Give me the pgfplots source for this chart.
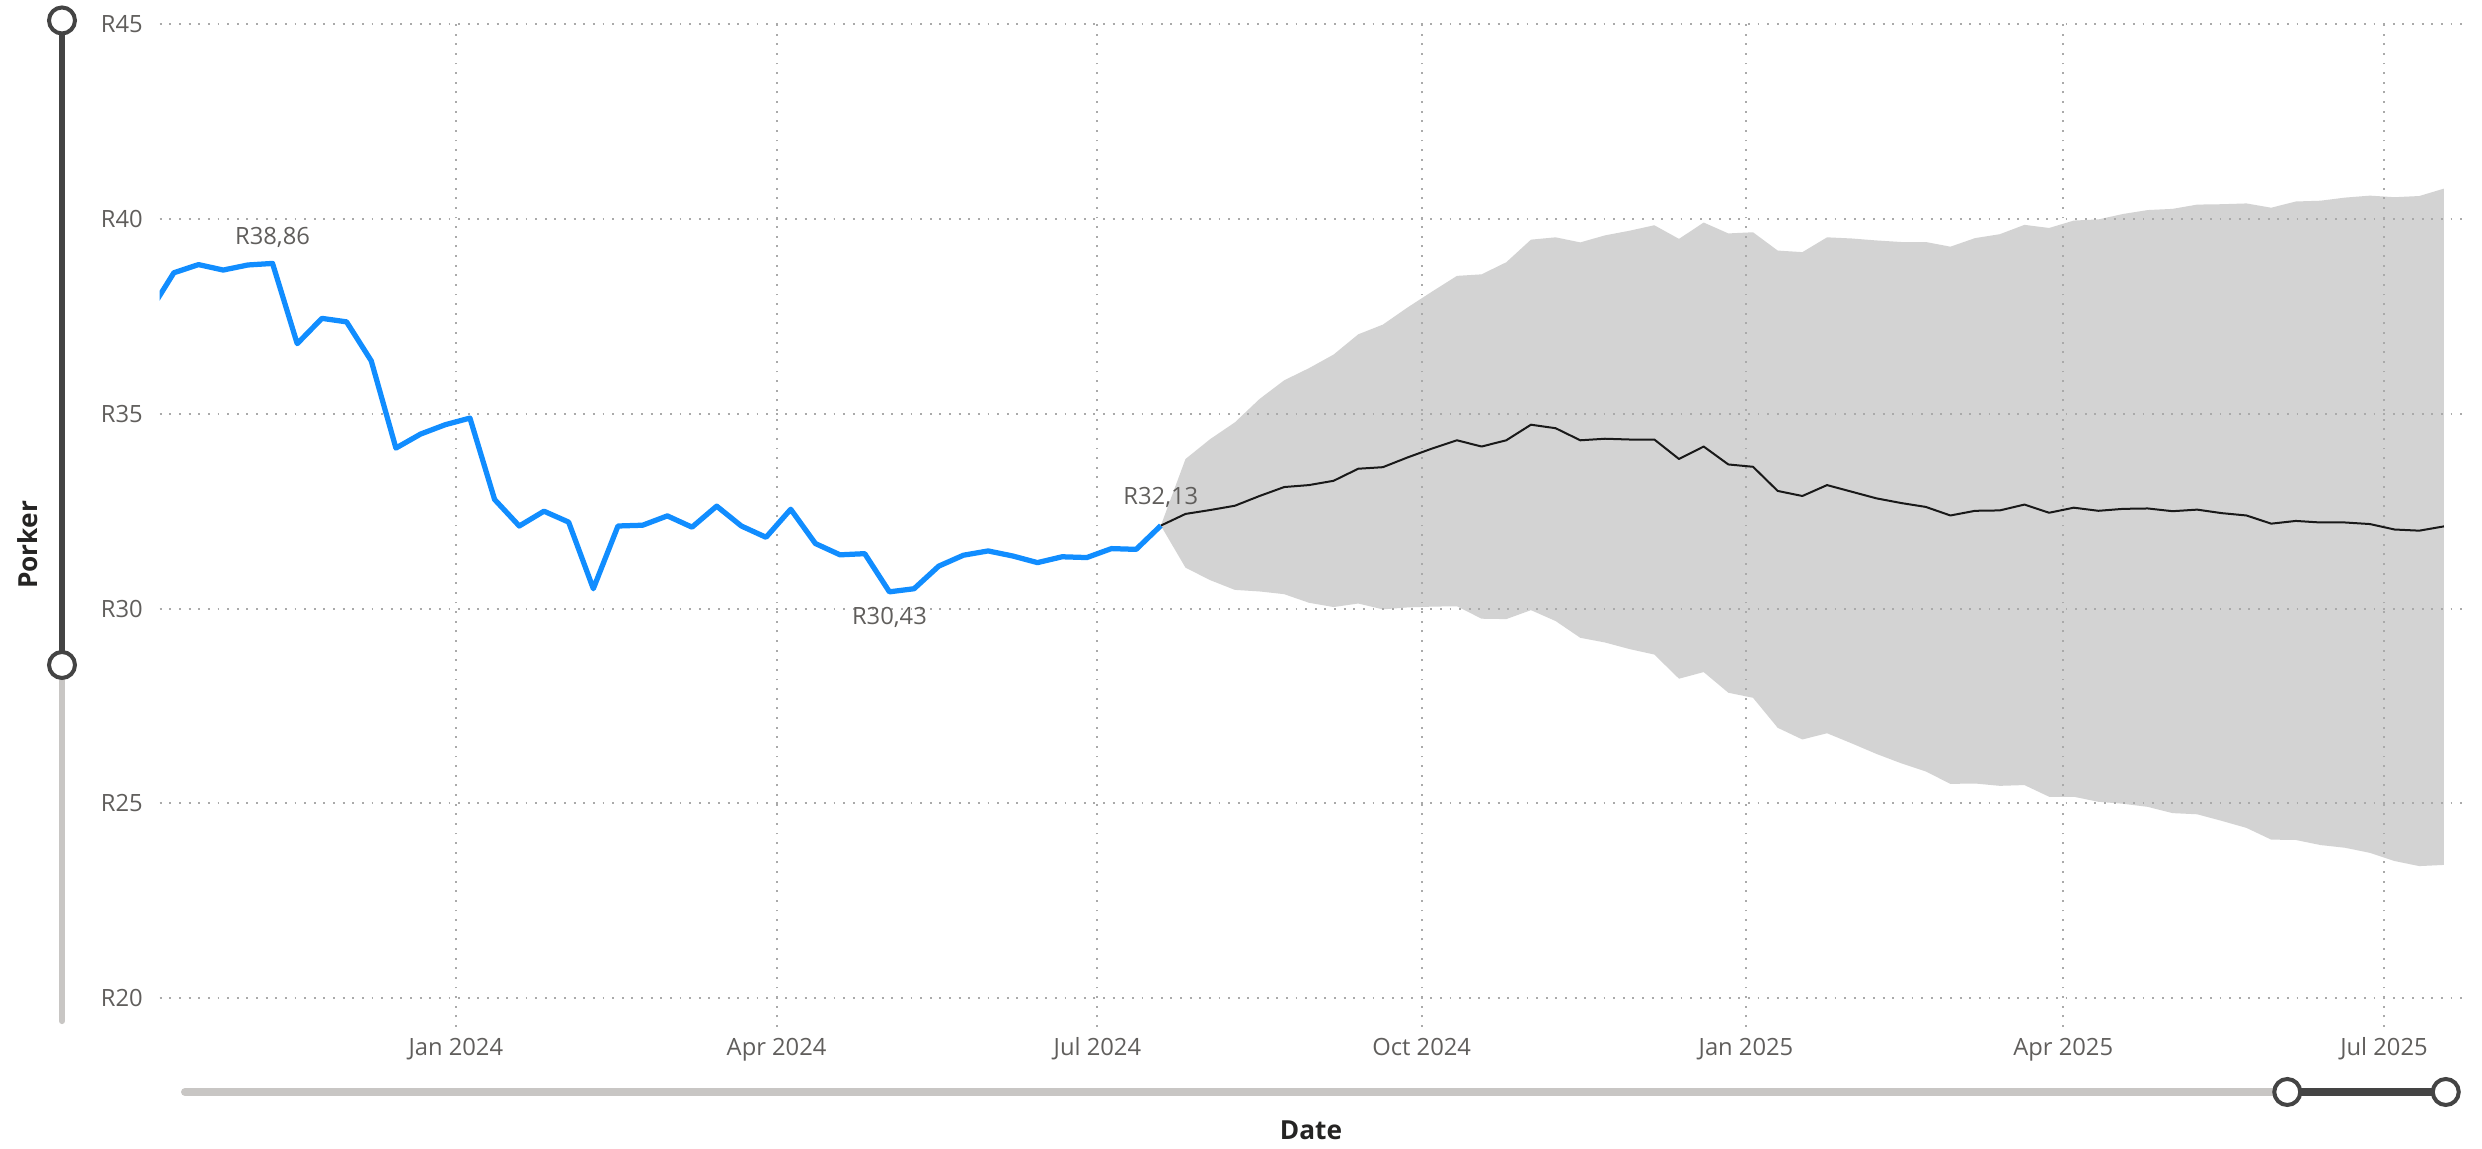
\documentclass[border=0pt]{standalone}
\usepackage{pgfplots}
\pgfplotsset{compat=1.18}
\usepackage{pgfplotstable}
\usepackage{fontspec}
\setmainfont{Open Sans}
\definecolor{pbblue}{HTML}{118DFF}
\definecolor{band}{HTML}{D3D3D3}
\definecolor{gridc}{HTML}{AAAAAA}
\definecolor{tickc}{HTML}{605E5C}
\definecolor{titlec}{HTML}{252423}
\definecolor{sliderdark}{HTML}{444444}
\definecolor{sliderlight}{HTML}{C8C6C4}

\pgfplotstableread{
day val
-87 37.60
-80 38.62
-73 38.83
-66 38.69
-59 38.82
-52 38.86
-45 36.80
-38 37.45
-31 37.36
-24 36.36
-17 34.12
-10 34.48
-3 34.72
4 34.89
11 32.80
18 32.12
25 32.50
32 32.22
39 30.51
46 32.12
53 32.14
60 32.38
67 32.09
74 32.63
81 32.12
88 31.83
95 32.55
102 31.67
109 31.38
116 31.41
123 30.43
130 30.51
137 31.09
144 31.37
151 31.48
158 31.35
165 31.18
172 31.33
179 31.31
186 31.54
193 31.52
200 32.13
}\actualdata

\pgfplotstableread{
day fc
200 32.13
207 32.43
214 32.53
221 32.64
228 32.89
235 33.12
242 33.17
249 33.28
256 33.59
263 33.63
270 33.88
277 34.11
284 34.32
291 34.16
298 34.32
305 34.72
312 34.63
319 34.32
326 34.36
333 34.34
340 34.34
347 33.84
354 34.16
361 33.70
368 33.64
375 33.02
382 32.89
389 33.17
396 33.00
403 32.83
410 32.71
417 32.61
424 32.39
431 32.51
438 32.52
445 32.67
452 32.46
459 32.59
466 32.51
473 32.56
480 32.57
487 32.50
494 32.54
501 32.45
508 32.39
515 32.18
522 32.25
529 32.21
536 32.21
543 32.17
550 32.03
557 32.00
564 32.11
}\forecastdata

\pgfplotsset{
  base/.style={
    at={(63.9pt,48.8pt)}, anchor=south west,
    scale only axis, width=920.7pt, height=401.1pt,
    xmin=-84, xmax=569, ymin=19.26, ymax=45,
    axis line style={draw=none},
    major tick length=0pt,
  }
}

\begin{document}
\begin{tikzpicture}
\fontsize{9.5}{11}\selectfont
\path[use as bounding box] (0,0) rectangle (992.8pt,459.6pt);
% band (underneath the grid): upper bound forward, lower bound back
\begin{axis}[base, xtick={0}, ytick={20}, xticklabels={}, yticklabels={}]
\addplot[fill=band, draw=none] coordinates {
(200,32.13)(207,33.84)(214,34.35)(221,34.78)(228,35.38)(235,35.86)(242,36.17)(249,36.52)(256,37.04)(263,37.29)(270,37.73)(277,38.14)(284,38.54)(291,38.58)(298,38.89)(305,39.47)(312,39.53)(319,39.40)(326,39.58)(333,39.70)(340,39.84)(347,39.49)(354,39.91)(361,39.63)(368,39.66)(375,39.19)(382,39.15)(389,39.53)(396,39.50)(403,39.45)(410,39.41)(417,39.41)(424,39.29)(431,39.51)(438,39.61)(445,39.85)(452,39.77)(459,39.96)(466,39.99)(473,40.13)(480,40.23)(487,40.26)(494,40.37)(501,40.38)(508,40.40)(515,40.29)(522,40.45)(529,40.47)(536,40.55)(543,40.60)(550,40.56)(557,40.59)(564,40.78)
(564,23.42)(557,23.39)(550,23.52)(543,23.73)(536,23.86)(529,23.93)(522,24.06)(515,24.07)(508,24.37)(501,24.55)(494,24.72)(487,24.75)(480,24.91)(473,24.99)(466,25.04)(459,25.17)(452,25.17)(445,25.47)(438,25.45)(431,25.51)(424,25.50)(417,25.82)(410,26.03)(403,26.27)(396,26.54)(389,26.80)(382,26.64)(375,26.94)(368,27.71)(361,27.84)(354,28.37)(347,28.20)(340,28.82)(333,28.96)(326,29.13)(319,29.25)(312,29.68)(305,29.96)(298,29.73)(291,29.74)(284,30.06)(277,30.05)(270,30.03)(263,29.98)(256,30.13)(249,30.04)(242,30.15)(235,30.37)(228,30.44)(221,30.48)(214,30.73)(207,31.05)(200,32.13)
};
\end{axis}
% grid, labels, lines
\begin{axis}[base,
  xtick={0,91,182,274,366,456,547},
  xticklabels={Jan 2024,Apr 2024,Jul 2024,Oct 2024,Jan 2025,Apr 2025,Jul 2025},
  ytick={20,25,30,35,40,45},
  yticklabels={R20,R25,R30,R35,R40,R45},
  xticklabel style={anchor=base, inner sep=0pt, yshift=-11.4pt, text=tickc, font=\fontsize{9.5}{11}\selectfont},
  yticklabel style={anchor=east, inner sep=0pt, xshift=-6.6pt, text=tickc, font=\fontsize{9.5}{11}\selectfont},
  grid=major,
  grid style={draw=gridc, line width=0.75pt, dash pattern=on 0.75pt off 3.1pt},
]
\addplot[black!90, line width=0.8pt, line join=round] table[x=day,y=fc]{\forecastdata};
\addplot[pbblue, line width=2.1pt, line join=round] table[x=day,y=val]{\actualdata};
\node[text=tickc, font=\fontsize{9.5}{11}\selectfont] at (axis cs:-52,39.54) {R38,86};
\node[text=tickc, font=\fontsize{9.5}{11}\selectfont] at (axis cs:123,29.77) {R30,43};
\node[text=tickc, font=\fontsize{9.5}{11}\selectfont] at (axis cs:200,32.85) {R32,13};
\end{axis}
% axis titles
\node[rotate=90, text=titlec, font=\bfseries\fontsize{10.5}{12}\selectfont] at (11pt,241.6pt) {Porker};
\node[text=titlec, font=\bfseries\fontsize{10.5}{12}\selectfont] at (524.4pt,7.6pt) {Date};
% left slider
\draw[sliderlight, line width=2.5pt, line cap=round] (24.8pt,193.6pt) -- (24.8pt,51.2pt);
\draw[sliderdark, line width=2.5pt] (24.8pt,451.4pt) -- (24.8pt,193.6pt);
\draw[sliderdark, fill=white, line width=1.6pt] (24.8pt,451.4pt) circle (5.2pt);
\draw[sliderdark, fill=white, line width=1.6pt] (24.8pt,193.6pt) circle (5.2pt);
% bottom slider
\draw[sliderlight, line width=3.2pt, line cap=round] (74pt,22.8pt) -- (914.9pt,22.8pt);
\draw[sliderdark, line width=3.2pt] (914.9pt,22.8pt) -- (978.3pt,22.8pt);
\draw[sliderdark, fill=white, line width=1.6pt] (914.9pt,22.8pt) circle (5.2pt);
\draw[sliderdark, fill=white, line width=1.6pt] (978.3pt,22.8pt) circle (5.2pt);
\end{tikzpicture}
\end{document}
